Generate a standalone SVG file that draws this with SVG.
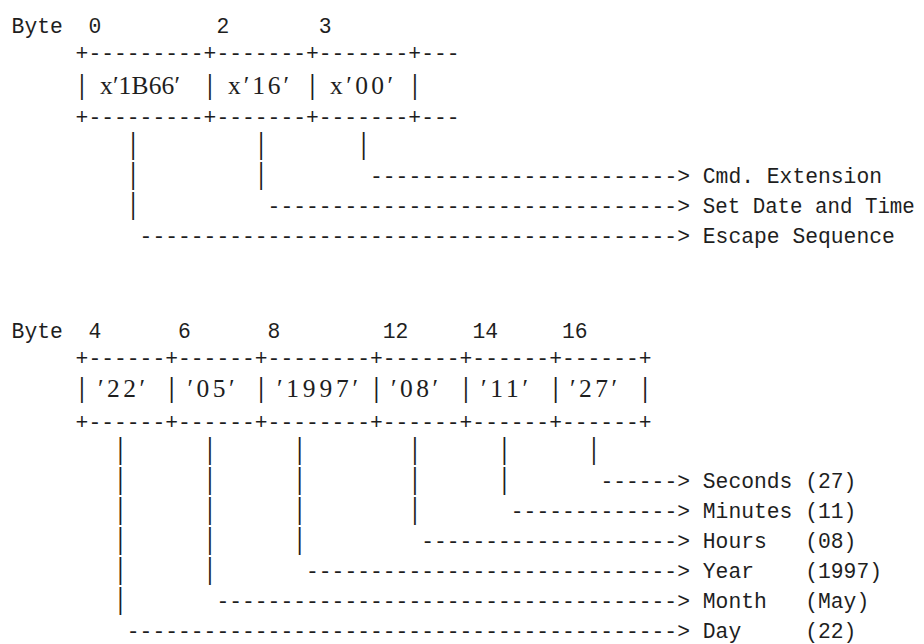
<svg xmlns="http://www.w3.org/2000/svg" width="924" height="644" viewBox="0 0 924 644" xml:space="preserve">
<style>
text{fill:#1e1e1e;white-space:pre}
.m{font-family:"Liberation Mono","Courier New",monospace;font-size:21.33px}
.b{font-family:"Liberation Mono","Courier New",monospace;font-size:21.33px;text-anchor:middle}
.s{font-family:"Liberation Serif","Times New Roman",serif;font-size:25.5px}
</style>
<rect width="924" height="644" fill="#ffffff"/>
<g id="header-1" class="m"><text x="11.6" y="33">Byte</text><text x="88.4" y="33">0</text><text x="216.4" y="33">2</text><text x="318.8" y="33">3</text></g>
<g id="record-1">
<text class="m" x="75.6" y="59.5">+---------+-------+-------+---</text>
<text class="b" transform="translate(82,94) scale(1,1.3)">|</text><text class="b" transform="translate(210,94) scale(1,1.3)">|</text><text class="b" transform="translate(312.4,94) scale(1,1.3)">|</text><text class="b" transform="translate(414.8,94) scale(1,1.3)">|</text>
<text class="m" x="75.6" y="123.5">+---------+-------+-------+---</text>
<g id="field-escape"><text class="s" x="100" y="94" textLength="80" lengthAdjust="spacing">x′1B66′</text></g>
<g id="field-cmd"><text class="s" x="228" y="94" textLength="61" lengthAdjust="spacing">x′16′</text></g>
<g id="field-ext"><text class="s" x="330" y="94" textLength="63" lengthAdjust="spacing">x′00′</text></g>
</g>
<g id="connectors-1" class="m">
<text class="b" transform="translate(133.2,153.5) scale(1,1.35)">|</text><text class="b" transform="translate(261.2,153.5) scale(1,1.35)">|</text><text class="b" transform="translate(363.6,153.5) scale(1,1.35)">|</text>
<text class="b" transform="translate(133.2,183.5) scale(1,1.35)">|</text><text class="b" transform="translate(261.2,183.5) scale(1,1.35)">|</text><text x="370" y="183">------------------------&gt;</text>
<text class="b" transform="translate(133.2,213.5) scale(1,1.35)">|</text><text x="267.6" y="213">--------------------------------&gt;</text>
<text x="139.6" y="243">------------------------------------------&gt;</text>
</g>
<g id="label-cmd-extension"><text class="m" x="702.8" y="183">Cmd. Extension</text></g>
<g id="label-set-date-time"><text class="m" x="702.8" y="213" textLength="212" lengthAdjust="spacingAndGlyphs">Set Date and Time</text></g>
<g id="label-escape-sequence"><text class="m" x="702.8" y="243">Escape Sequence</text></g>

<g id="header-2" class="m"><text x="11.6" y="338">Byte</text><text x="88.4" y="338">4</text><text x="178" y="338">6</text><text x="267.6" y="338">8</text><text x="382.8" y="338">12</text><text x="472.4" y="338">14</text><text x="562" y="338">16</text></g>
<g id="record-2">
<text class="m" x="75.6" y="364.5">+------+------+--------+------+------+------+</text>
<text class="b" transform="translate(82,397) scale(1,1.3)">|</text><text class="b" transform="translate(171.6,397) scale(1,1.3)">|</text><text class="b" transform="translate(261.2,397) scale(1,1.3)">|</text><text class="b" transform="translate(376.4,397) scale(1,1.3)">|</text><text class="b" transform="translate(466,397) scale(1,1.3)">|</text><text class="b" transform="translate(555.6,397) scale(1,1.3)">|</text><text class="b" transform="translate(645.2,397) scale(1,1.3)">|</text>
<text class="m" x="75.6" y="428.5">+------+------+--------+------+------+------+</text>
<g id="field-day"><text class="s" x="98" y="397" textLength="47" lengthAdjust="spacing">′22′</text></g>
<g id="field-month"><text class="s" x="187.5" y="397" textLength="47" lengthAdjust="spacing">′05′</text></g>
<g id="field-year"><text class="s" x="277" y="397" textLength="81" lengthAdjust="spacing">′1997′</text></g>
<g id="field-hours"><text class="s" x="391" y="397" textLength="47" lengthAdjust="spacing">′08′</text></g>
<g id="field-minutes"><text class="s" x="481" y="397" textLength="47" lengthAdjust="spacing">′11′</text></g>
<g id="field-seconds"><text class="s" x="570" y="397" textLength="47" lengthAdjust="spacing">′27′</text></g>
</g>
<g id="connectors-2" class="m">
<text class="b" transform="translate(120.4,458.5) scale(1,1.35)">|</text><text class="b" transform="translate(210,458.5) scale(1,1.35)">|</text><text class="b" transform="translate(299.6,458.5) scale(1,1.35)">|</text><text class="b" transform="translate(414.8,458.5) scale(1,1.35)">|</text><text class="b" transform="translate(504.4,458.5) scale(1,1.35)">|</text><text class="b" transform="translate(594,458.5) scale(1,1.35)">|</text>
<text class="b" transform="translate(120.4,488.5) scale(1,1.35)">|</text><text class="b" transform="translate(210,488.5) scale(1,1.35)">|</text><text class="b" transform="translate(299.6,488.5) scale(1,1.35)">|</text><text class="b" transform="translate(414.8,488.5) scale(1,1.35)">|</text><text class="b" transform="translate(504.4,488.5) scale(1,1.35)">|</text><text x="600.4" y="488">------&gt;</text>
<text class="b" transform="translate(120.4,518.5) scale(1,1.35)">|</text><text class="b" transform="translate(210,518.5) scale(1,1.35)">|</text><text class="b" transform="translate(299.6,518.5) scale(1,1.35)">|</text><text class="b" transform="translate(414.8,518.5) scale(1,1.35)">|</text><text x="510.8" y="518">-------------&gt;</text>
<text class="b" transform="translate(120.4,548.5) scale(1,1.35)">|</text><text class="b" transform="translate(210,548.5) scale(1,1.35)">|</text><text class="b" transform="translate(299.6,548.5) scale(1,1.35)">|</text><text x="421.2" y="548">--------------------&gt;</text>
<text class="b" transform="translate(120.4,578.5) scale(1,1.35)">|</text><text class="b" transform="translate(210,578.5) scale(1,1.35)">|</text><text x="306" y="578">-----------------------------&gt;</text>
<text class="b" transform="translate(120.4,608.5) scale(1,1.35)">|</text><text x="216.4" y="608">------------------------------------&gt;</text>
<text x="126.8" y="638">-------------------------------------------&gt;</text>
</g>
<g id="label-seconds"><text class="m" x="702.8" y="488">Seconds (27)</text></g>
<g id="label-minutes"><text class="m" x="702.8" y="518">Minutes (11)</text></g>
<g id="label-hours"><text class="m" x="702.8" y="548">Hours   (08)</text></g>
<g id="label-year"><text class="m" x="702.8" y="578">Year    (1997)</text></g>
<g id="label-month"><text class="m" x="702.8" y="608">Month   (May)</text></g>
<g id="label-day"><text class="m" x="702.8" y="638">Day     (22)</text></g>
</svg>
